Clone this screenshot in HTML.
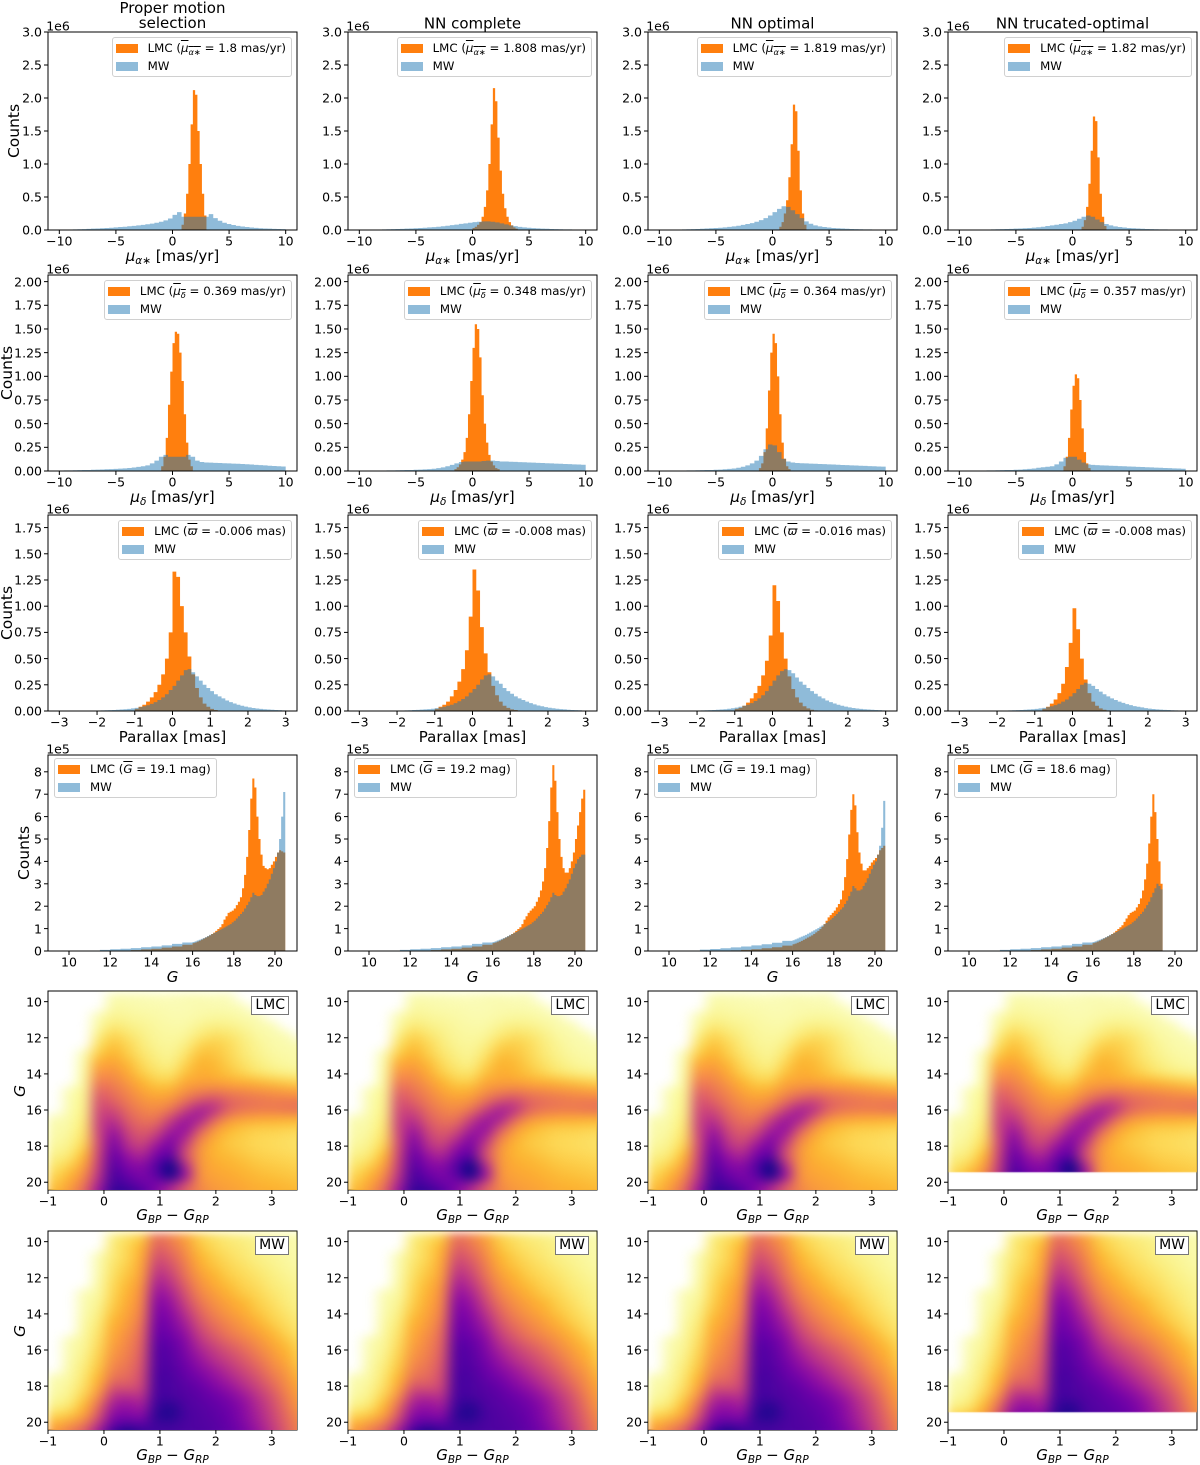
<!DOCTYPE html>
<html><head><meta charset="utf-8">
<style>
html,body{margin:0;padding:0;background:#fff;}
#root{position:relative;width:1200px;height:1465px;overflow:hidden;font-family:"DejaVu Sans","Liberation Sans",sans-serif;color:#000;}
.t{position:absolute;white-space:nowrap;transform:translate(-50%,-50%);}
.leg{position:absolute;background:rgba(255,255,255,0.85);border:1px solid #d0d0d0;border-radius:3px;padding:1px 5px 1px 3px;font-size:11.8px;line-height:18px;white-space:nowrap;}
.patch{display:inline-block;width:22px;height:9px;margin-right:10px;vertical-align:-1px;}
.box{position:absolute;border:1px solid #777;background:#fff;font-size:14px;padding:0 3px;line-height:17px;}
sub{font-size:70%;vertical-align:-3px;line-height:0;}
canvas{position:absolute;}
</style></head>
<body>
<div id="root">
<svg id="svg" width="1200" height="1465" style="position:absolute;left:0;top:0"></svg>
</div>
<script>
// ---------- DATA ----------
const columnTitles = ["Proper motion\nselection","NN complete","NN optimal","NN trucated-optimal"];
// Row 1: proper motion RA (units 1e6)
const pmraLmcStart = [0.8,0.0,0.6,0.8];
const pmraLmc1 = [0.08,0.25,0.55,1.0,1.6,2.12,2.05,1.5,1.0,0.55,0.22];
const pmraLmc2 = [0.03,0.05,0.08,0.12,0.2,0.35,0.6,1.0,1.6,2.15,1.95,1.4,0.9,0.55,0.33,0.2,0.12,0.07,0.04,0.02];
const pmraLmc3 = [0.05,0.12,0.25,0.45,0.8,1.3,1.9,1.8,1.2,0.6,0.25,0.08];
const pmraLmc4 = [0.05,0.15,0.35,0.7,1.2,1.72,1.65,1.1,0.55,0.2,0.06];
const pmraMw1 = [0.005,0.007,0.008,0.01,0.012,0.014,0.017,0.02,0.023,0.027,0.031,0.035,0.04,0.045,0.05,0.056,0.063,0.07,0.078,0.087,0.097,0.11,0.125,0.145,0.175,0.23,0.27,0.2,0.2,0.2,0.2,0.2,0.2,0.24,0.18,0.14,0.11,0.09,0.075,0.063,0.053,0.045,0.038,0.032,0.027,0.023,0.02,0.017,0.015,0.013];
const pmraMw2 = [0.004,0.005,0.006,0.007,0.008,0.009,0.011,0.013,0.015,0.017,0.02,0.023,0.026,0.03,0.034,0.039,0.044,0.05,0.057,0.065,0.073,0.082,0.092,0.1,0.11,0.12,0.125,0.13,0.13,0.125,0.115,0.1,0.085,0.07,0.058,0.048,0.04,0.034,0.029,0.025,0.021,0.018,0.016,0.014,0.012,0.01,0.009,0.008,0.007,0.006];
const pmraMw3 = [0.004,0.005,0.006,0.007,0.008,0.01,0.012,0.014,0.016,0.019,0.022,0.026,0.03,0.035,0.04,0.047,0.055,0.065,0.077,0.09,0.105,0.125,0.15,0.18,0.22,0.27,0.32,0.36,0.35,0.3,0.24,0.18,0.13,0.095,0.07,0.055,0.045,0.037,0.031,0.026,0.022,0.019,0.016,0.014,0.012,0.01,0.009,0.008,0.007,0.006];
const pmraMw4 = [0.003,0.004,0.005,0.005,0.006,0.007,0.008,0.01,0.011,0.013,0.015,0.017,0.02,0.023,0.027,0.031,0.036,0.042,0.05,0.06,0.07,0.08,0.09,0.1,0.12,0.14,0.17,0.2,0.22,0.2,0.16,0.12,0.09,0.07,0.055,0.045,0.037,0.031,0.026,0.022,0.019,0.016,0.014,0.012,0.01,0.009,0.008,0.007,0.006,0.005];
const pmraMeans = ["1.8","1.808","1.819","1.82"];
// Row 2: proper motion Dec (1e6)
const pmdecLmcStart = [-1.0,-1.6,-1.2,-0.8];
const pmdecLmc1 = [0.05,0.15,0.35,0.7,1.05,1.35,1.47,1.45,1.25,0.95,0.6,0.3,0.12,0.05];
const pmdecLmc2 = [0.02,0.04,0.07,0.12,0.2,0.35,0.6,0.95,1.3,1.55,1.5,1.2,0.8,0.5,0.3,0.17,0.1,0.06,0.03,0.02];
const pmdecLmc3 = [0.03,0.08,0.2,0.45,0.85,1.25,1.45,1.35,1.0,0.6,0.3,0.13,0.05,0.02];
const pmdecLmc4 = [0.05,0.15,0.35,0.65,0.9,1.02,0.98,0.75,0.45,0.2,0.08,0.03];
const pmdecMw1 = [0.005,0.006,0.007,0.008,0.009,0.01,0.011,0.013,0.014,0.016,0.018,0.02,0.022,0.025,0.028,0.032,0.037,0.043,0.05,0.06,0.08,0.11,0.15,0.17,0.15,0.15,0.15,0.15,0.17,0.15,0.11,0.095,0.09,0.088,0.086,0.084,0.082,0.08,0.078,0.076,0.074,0.071,0.068,0.065,0.062,0.059,0.056,0.053,0.05,0.047];
const pmdecMw2 = [0.003,0.003,0.004,0.004,0.005,0.005,0.006,0.007,0.008,0.009,0.01,0.011,0.013,0.015,0.017,0.02,0.024,0.03,0.038,0.05,0.065,0.08,0.095,0.1,0.1,0.1,0.1,0.105,0.11,0.11,0.105,0.1,0.1,0.098,0.096,0.094,0.092,0.09,0.088,0.086,0.084,0.082,0.08,0.078,0.076,0.074,0.072,0.07,0.068,0.066];
const pmdecMw3 = [0.003,0.003,0.004,0.004,0.005,0.005,0.006,0.007,0.008,0.009,0.01,0.011,0.013,0.015,0.018,0.022,0.027,0.034,0.045,0.06,0.08,0.11,0.16,0.23,0.28,0.27,0.2,0.13,0.1,0.09,0.085,0.082,0.08,0.078,0.076,0.074,0.072,0.07,0.068,0.066,0.064,0.062,0.06,0.058,0.056,0.054,0.052,0.05,0.048,0.046];
const pmdecMw4 = [0.003,0.003,0.004,0.004,0.005,0.005,0.006,0.007,0.008,0.009,0.01,0.011,0.013,0.015,0.018,0.022,0.027,0.034,0.04,0.045,0.05,0.07,0.1,0.14,0.15,0.15,0.12,0.09,0.07,0.065,0.062,0.06,0.058,0.056,0.054,0.052,0.05,0.048,0.046,0.044,0.042,0.04,0.038,0.036,0.034,0.032,0.03,0.028,0.026,0.024];
const pmdecMeans = ["0.369","0.348","0.364","0.357"];
// Row 3: parallax (1e6)
const plxLmcStart = [-1.0,-1.0,-1.0,-0.8];
const plxLmc1 = [0.02,0.04,0.06,0.09,0.13,0.18,0.25,0.35,0.5,0.75,1.33,1.28,1.0,0.75,0.52,0.35,0.22,0.13,0.07,0.04,0.02,0.01];
const plxLmc2 = [0.02,0.04,0.06,0.09,0.14,0.2,0.28,0.4,0.58,0.9,1.35,1.15,0.8,0.55,0.37,0.24,0.15,0.09,0.05,0.03,0.015,0.01];
const plxLmc3 = [0.02,0.03,0.05,0.08,0.12,0.17,0.24,0.34,0.48,0.72,1.2,1.05,0.75,0.5,0.33,0.21,0.13,0.08,0.045,0.025,0.012,0.006];
const plxLmc4 = [0.02,0.04,0.07,0.11,0.17,0.26,0.42,0.65,0.98,0.78,0.5,0.3,0.17,0.09,0.05,0.025,0.012,0.006];
const plxMw1 = [0.005,0.006,0.007,0.008,0.01,0.012,0.014,0.017,0.02,0.025,0.03,0.037,0.045,0.055,0.068,0.085,0.105,0.13,0.16,0.2,0.24,0.29,0.34,0.39,0.4,0.37,0.33,0.29,0.25,0.22,0.19,0.16,0.14,0.12,0.1,0.085,0.072,0.06,0.05,0.042,0.035,0.029,0.024,0.02,0.017,0.014,0.012,0.01,0.008,0.006];
const plxMw2 = [0.004,0.005,0.006,0.007,0.009,0.011,0.013,0.015,0.018,0.022,0.027,0.033,0.04,0.05,0.06,0.075,0.093,0.115,0.14,0.175,0.21,0.25,0.3,0.34,0.35,0.33,0.29,0.26,0.22,0.19,0.165,0.14,0.12,0.105,0.09,0.075,0.063,0.053,0.045,0.037,0.031,0.026,0.021,0.018,0.015,0.012,0.01,0.008,0.007,0.005];
const plxMw3 = [0.005,0.006,0.007,0.008,0.01,0.012,0.014,0.017,0.021,0.026,0.032,0.04,0.05,0.06,0.075,0.095,0.12,0.15,0.19,0.24,0.29,0.34,0.38,0.4,0.39,0.36,0.32,0.28,0.25,0.22,0.19,0.165,0.14,0.12,0.1,0.085,0.072,0.06,0.05,0.042,0.035,0.029,0.024,0.02,0.017,0.014,0.012,0.01,0.008,0.006];
const plxMw4 = [0.003,0.004,0.005,0.006,0.007,0.008,0.01,0.012,0.014,0.017,0.02,0.025,0.03,0.037,0.045,0.056,0.07,0.09,0.11,0.14,0.17,0.21,0.25,0.27,0.26,0.24,0.21,0.185,0.16,0.14,0.12,0.105,0.09,0.078,0.066,0.056,0.047,0.04,0.034,0.028,0.023,0.019,0.016,0.013,0.011,0.009,0.007,0.006,0.005,0.004];
const plxMeans = ["-0.006","-0.008","-0.016","-0.008"];
// Row 4: G magnitude (1e5); low segment 11.5-16 (0.5 bins), high segment from 16 (0.1 bins)
const gLmcLo1 = [0.003,0.01,0.02,0.04,0.07,0.1,0.15,0.2,0.28];
const gLmcLo2 = [0.003,0.01,0.02,0.04,0.07,0.1,0.15,0.2,0.28];
const gLmcLo3 = [0.003,0.008,0.015,0.03,0.05,0.08,0.12,0.17,0.24];
const gLmcLo4 = [0.003,0.01,0.02,0.04,0.07,0.1,0.15,0.2,0.28];
const gMwLo1 = [0.05,0.08,0.1,0.13,0.17,0.2,0.25,0.32,0.38];
const gMwLo2 = [0.05,0.08,0.1,0.13,0.17,0.2,0.25,0.32,0.38];
const gMwLo3 = [0.06,0.09,0.12,0.16,0.2,0.25,0.3,0.37,0.45];
const gMwLo4 = [0.05,0.08,0.1,0.13,0.17,0.2,0.25,0.32,0.38];
const gLmcHi1 = [0.35,0.38,0.42,0.46,0.5,0.55,0.6,0.65,0.7,0.76,0.82,0.9,0.98,1.06,1.2,1.4,1.55,1.7,1.75,1.8,1.9,2.05,2.2,2.4,2.8,3.4,4.2,5.4,6.8,7.7,7.3,6.0,5.0,4.3,3.8,3.7,3.65,3.7,3.85,4.0,4.2,4.4,4.5,4.45,4.4];
const gLmcHi2 = [0.35,0.38,0.42,0.46,0.5,0.55,0.6,0.65,0.7,0.76,0.82,0.9,0.98,1.06,1.2,1.4,1.55,1.7,1.8,1.9,2.0,2.2,2.4,2.7,3.1,3.7,4.6,5.8,7.3,8.3,7.6,6.2,5.0,4.2,3.7,3.5,3.5,3.7,4.0,4.4,5.0,5.6,6.2,6.8,7.2];
const gLmcHi3 = [0.3,0.33,0.37,0.41,0.45,0.5,0.55,0.6,0.65,0.7,0.76,0.83,0.9,0.98,1.08,1.2,1.35,1.5,1.6,1.7,1.8,1.95,2.1,2.3,2.7,3.3,4.1,5.2,6.3,7.0,6.5,5.3,4.4,3.9,3.6,3.6,3.7,3.8,3.95,4.05,4.15,4.3,4.5,4.6,4.7];
const gLmcHi4 = [0.35,0.38,0.42,0.46,0.5,0.55,0.6,0.65,0.7,0.76,0.82,0.9,0.98,1.06,1.15,1.3,1.45,1.6,1.7,1.75,1.8,1.95,2.1,2.35,2.7,3.2,3.9,4.8,6.0,7.0,6.2,5.0,4.0,3.0];
const gMwHi1 = [0.4,0.43,0.47,0.5,0.54,0.58,0.62,0.67,0.72,0.76,0.8,0.85,0.9,0.95,1.0,1.05,1.1,1.15,1.2,1.28,1.35,1.45,1.55,1.65,1.75,1.9,2.05,2.2,2.4,2.6,2.5,2.45,2.45,2.5,2.65,2.8,3.0,3.2,3.45,3.7,4.0,4.4,5.0,6.0,7.1];
const gMwHi2 = [0.4,0.43,0.47,0.5,0.54,0.58,0.62,0.67,0.72,0.76,0.8,0.85,0.9,0.95,1.0,1.05,1.1,1.15,1.2,1.28,1.35,1.45,1.55,1.65,1.75,1.9,2.05,2.2,2.4,2.6,2.5,2.45,2.45,2.5,2.65,2.8,3.0,3.2,3.45,3.7,3.9,4.1,4.2,4.3,4.3];
const gMwHi3 = [0.48,0.52,0.56,0.6,0.64,0.68,0.72,0.77,0.82,0.87,0.92,0.97,1.02,1.08,1.14,1.2,1.26,1.33,1.4,1.48,1.56,1.65,1.75,1.85,1.95,2.1,2.25,2.45,2.65,2.9,2.8,2.7,2.7,2.75,2.9,3.05,3.25,3.45,3.65,3.85,4.0,4.3,4.7,5.5,6.7];
const gMwHi4 = [0.4,0.43,0.47,0.5,0.54,0.58,0.62,0.67,0.72,0.76,0.8,0.85,0.9,0.95,1.0,1.05,1.1,1.15,1.2,1.28,1.35,1.45,1.55,1.65,1.75,1.9,2.05,2.2,2.4,2.6,2.8,3.0,2.9,2.75];
const gMeans = ["19.1","19.2","19.1","18.6"];
// CMD density grids (0-100), rows G 9.75..20.25 step 0.5, cols colour -0.875..3.375 step 0.25
const cmdLmc = [
[0,0,0,0,3,3,3,2,2,3,3,2,2,0,0,0,0,0],
[0,0,0,0,5,5,4,4,3,3,4,4,3,2,0,0,0,0],
[0,0,0,3,8,7,6,5,4,4,5,6,6,4,3,0,0,0],
[0,0,0,5,12,10,8,6,5,5,8,10,9,7,4,3,0,0],
[0,0,0,10,18,14,10,7,6,7,12,15,14,10,6,4,3,0],
[0,0,0,15,22,18,12,8,7,10,18,20,17,12,8,5,4,3],
[0,0,3,20,25,20,14,10,8,14,22,22,18,13,9,6,5,4],
[0,0,5,28,30,24,17,12,10,18,25,24,20,15,11,8,6,5],
[0,0,6,35,35,28,20,15,14,22,27,25,22,18,14,11,9,8],
[0,0,7,42,40,33,25,20,20,28,30,30,28,26,24,22,20,18],
[0,3,8,50,45,38,30,26,27,35,40,42,40,38,36,34,32,30],
[0,3,9,55,50,42,35,32,35,45,55,58,50,46,44,42,42,42],
[0,4,10,58,58,47,40,38,45,60,70,65,50,44,42,42,44,45],
[3,5,12,60,65,52,45,45,60,72,70,50,35,30,28,27,26,25],
[4,6,14,60,72,58,50,55,70,75,55,35,25,22,20,20,19,18],
[5,8,16,58,78,63,55,65,78,68,42,28,22,20,18,17,16,15],
[7,10,20,58,82,68,62,75,82,60,35,25,22,20,18,17,16,15],
[10,14,25,60,85,75,70,82,88,58,34,26,24,22,20,19,18,17],
[14,20,32,62,88,80,78,88,100,70,35,28,26,24,22,21,20,19],
[18,25,38,65,90,85,80,86,98,75,36,30,28,26,24,23,22,21],
[22,30,45,70,92,90,85,80,72,55,38,32,30,28,26,25,24,23],
[25,35,50,75,95,95,90,80,65,50,40,35,32,30,28,27,26,25]];
const cmdMw = [
[0,0,0,0,10,15,20,45,40,30,20,15,12,10,8,6,5,3],
[0,0,0,0,12,18,25,50,45,35,22,17,14,12,9,7,5,4],
[0,0,0,3,12,18,28,55,50,38,25,20,16,13,10,8,6,4],
[0,0,0,3,14,20,30,60,55,42,28,22,18,15,12,9,7,5],
[0,0,0,4,15,22,32,65,60,45,32,25,20,17,14,11,8,6],
[0,0,0,5,17,24,35,70,65,50,36,28,23,19,16,12,10,7],
[0,0,3,6,18,26,38,74,70,55,40,32,26,21,18,14,11,8],
[0,0,3,8,20,28,40,78,74,60,45,36,30,25,20,16,12,9],
[0,0,4,10,22,30,42,80,77,65,50,40,33,28,22,18,14,10],
[0,0,5,12,25,32,45,82,80,70,55,45,38,32,26,20,16,12],
[0,0,6,14,28,35,48,84,82,74,60,50,42,36,30,24,18,14],
[0,3,7,16,30,38,50,86,85,78,65,56,48,42,35,28,22,16],
[0,3,8,18,33,40,52,88,87,80,70,62,55,48,40,32,25,18],
[0,4,10,20,36,42,54,88,88,82,74,66,60,53,45,36,28,20],
[0,5,12,22,40,45,56,89,89,84,78,72,65,58,50,40,32,22],
[3,6,14,25,45,48,58,90,90,86,82,76,70,63,55,45,35,25],
[4,8,16,30,55,55,60,90,90,88,85,80,75,68,60,50,38,28],
[6,10,20,38,65,68,66,91,91,89,87,84,80,74,65,55,42,30],
[10,14,25,48,72,75,72,93,96,90,88,86,83,77,68,58,45,32],
[18,22,32,55,78,80,78,95,97,91,89,87,84,78,70,60,48,35],
[28,35,45,65,85,90,88,92,92,90,89,88,85,80,72,62,50,38],
[35,45,55,75,95,100,95,92,92,90,90,88,86,82,75,65,52,40]];
const cmdGMax = [20.5,20.5,20.5,19.45];
const cmdTicksX = [-1,0,1,2,3];
const cmdTicksY = [10,12,14,16,18,20];

// ---------- LAYOUT ----------
const root = document.getElementById('root');
const svg = document.getElementById('svg');
const NS = 'http://www.w3.org/2000/svg';
const colLeft = [48,348,648,948];
const PW = 249;
const ORANGE = '#ff7f0e', BLUE = '#1f77b4';

function mk(tag, attrs, parent){
  const e = document.createElementNS(NS, tag);
  for (const k in attrs) e.setAttribute(k, attrs[k]);
  (parent||svg).appendChild(e);
  return e;
}
function txt(html, x, y, size, extra){
  const d = document.createElement('div');
  d.className = 't';
  d.style.left = x+'px'; d.style.top = y+'px'; d.style.fontSize = size+'px';
  if (extra) d.style.cssText += extra;
  d.innerHTML = html;
  root.appendChild(d);
  return d;
}
function fmtNum(v, dec){ const s = v.toFixed(dec); return s.replace('-', '\u2212'); }

function makeAxes(p){
  const x = v => p.left + (v - p.xmin)/(p.xmax - p.xmin)*PW;
  const H = p.bottom - p.top;
  const y = p.inv ? (v => p.top + (v - p.ymin)/(p.ymax - p.ymin)*H)
                  : (v => p.bottom - (v - p.ymin)/(p.ymax - p.ymin)*H);
  return {x, y, H};
}
function frame(p, name){
  const r = mk('rect', {x:p.left, y:p.top, width:PW, height:p.bottom-p.top, fill:'none', stroke:'#000', 'stroke-width':1});
  
  
}
function ticks(p, ax, xt, xdec, yt, ydec, name){
  xt.forEach(v => {
    const X = ax.x(v);
    const l = mk('line', {x1:X, x2:X, y1:p.bottom, y2:p.bottom+4, stroke:'#000', 'stroke-width':1});
    
    
    const t = txt(fmtNum(v, xdec), X, p.bottom+11, 12.5);
    
    
  });
  yt.forEach(v => {
    const Y = ax.y(v);
    const l = mk('line', {x1:p.left-4, x2:p.left, y1:Y, y2:Y, stroke:'#000', 'stroke-width':1});
    
    
    const t = txt(fmtNum(v, ydec), p.left-6, Y, 12.5, 'transform:translate(-100%,-50%);');
    
    
  });
}
function histPath(ax, start, width, values, fill, opacity, name){
  let d = 'M'+ax.x(start)+','+ax.y(0);
  values.forEach((v,i) => {
    const x0 = ax.x(start + i*width), x1 = ax.x(start + (i+1)*width), Y = ax.y(v);
    d += ' L'+x0+','+Y+' L'+x1+','+Y;
  });
  d += ' L'+ax.x(start + values.length*width)+','+ax.y(0)+' Z';
  const e = mk('path', {d, fill, 'fill-opacity':opacity, stroke:'none'});
  
  
}
function legend(p, html1, pos, name){
  const d = document.createElement('div');
  d.className = 'leg';
  if (pos === 'right'){ d.style.right = (1200 - (p.left+PW) + 5)+'px'; d.style.top = (p.top+5)+'px'; }
  else { d.style.left = (p.left+6)+'px'; d.style.top = (p.top+3)+'px'; }
  d.innerHTML = '<div><span class="patch" style="background:'+ORANGE+'"></span>'+html1+'</div>'+
                '<div><span class="patch" style="background:#8fbbd9"></span>MW</div>';
  
  
  root.appendChild(d);
}

// ---------- HISTOGRAM ROWS ----------
const rows = [
 {key:'pmra', top:32, bottom:230, xmin:-11, xmax:11, ymax:3.0, yt:[0,0.5,1,1.5,2,2.5,3], ydec:1, xt:[-10,-5,0,5,10], xdec:0,
  lmcStart:pmraLmcStart, lmcW:0.2, lmc:[pmraLmc1,pmraLmc2,pmraLmc3,pmraLmc4], mwStart:-10, mwW:0.4, mw:[pmraMw1,pmraMw2,pmraMw3,pmraMw4],
  off:'1e6', ylabX:14, xlabel:'<i>μ</i><sub><i>α</i>∗</sub> [mas/yr]',
  leg:m => 'LMC (<span style="text-decoration:overline"><i>μ</i><sub><i>α</i>∗</sub></span> = '+m+' mas/yr)', means:pmraMeans, legPos:'right'},
 {key:'pmdec', top:275, bottom:471, xmin:-11, xmax:11, ymax:2.07, yt:[0,0.25,0.5,0.75,1,1.25,1.5,1.75,2], ydec:2, xt:[-10,-5,0,5,10], xdec:0,
  lmcStart:pmdecLmcStart, lmcW:0.2, lmc:[pmdecLmc1,pmdecLmc2,pmdecLmc3,pmdecLmc4], mwStart:-10, mwW:0.4, mw:[pmdecMw1,pmdecMw2,pmdecMw3,pmdecMw4],
  off:'1e6', ylabX:7, xlabel:'<i>μ</i><sub><i>δ</i></sub> [mas/yr]',
  leg:m => 'LMC (<span style="text-decoration:overline"><i>μ</i><sub><i>δ</i></sub></span> = '+m+' mas/yr)', means:pmdecMeans, legPos:'right'},
 {key:'parallax', top:515, bottom:711, xmin:-3.3, xmax:3.3, ymax:1.87, yt:[0,0.25,0.5,0.75,1,1.25,1.5,1.75], ydec:2, xt:[-3,-2,-1,0,1,2,3], xdec:0,
  lmcStart:plxLmcStart, lmcW:0.1, lmc:[plxLmc1,plxLmc2,plxLmc3,plxLmc4], mwStart:-2, mwW:0.1, mw:[plxMw1,plxMw2,plxMw3,plxMw4],
  off:'1e6', ylabX:7, xlabel:'Parallax [mas]',
  leg:m => 'LMC (<span style="text-decoration:overline"><i>ϖ</i></span> = '+m+' mas)', means:plxMeans, legPos:'right'},
 {key:'gmag', top:755, bottom:951, xmin:8.98, xmax:21.07, ymax:8.75, yt:[0,1,2,3,4,5,6,7,8], ydec:0, xt:[10,12,14,16,18,20], xdec:0,
  off:'1e5', ylabX:24, xlabel:'<i>G</i>',
  leg:m => 'LMC (<span style="text-decoration:overline"><i>G</i></span> = '+m+' mag)', means:gMeans, legPos:'left'}
];
const gLmcLo=[gLmcLo1,gLmcLo2,gLmcLo3,gLmcLo4], gMwLo=[gMwLo1,gMwLo2,gMwLo3,gMwLo4];
const gLmcHi=[gLmcHi1,gLmcHi2,gLmcHi3,gLmcHi4], gMwHi=[gMwHi1,gMwHi2,gMwHi3,gMwHi4];

rows.forEach((R, ri) => {
  for (let c=0;c<4;c++){
    const p = {left:colLeft[c], top:R.top, bottom:R.bottom, xmin:R.xmin, xmax:R.xmax, ymin:0, ymax:R.ymax};
    const ax = makeAxes(p);
    const nm = R.key+'-panel-'+(c+1);
    if (R.key === 'gmag'){
      histPath(ax, 11.5, 0.5, gLmcLo[c], ORANGE, 1, nm+'-lmc-hist-faint');
      histPath(ax, 16, 0.1, gLmcHi[c], ORANGE, 1, nm+'-lmc-hist');
      histPath(ax, 11.5, 0.5, gMwLo[c], BLUE, 0.5, nm+'-mw-hist-faint');
      histPath(ax, 16, 0.1, gMwHi[c], BLUE, 0.5, nm+'-mw-hist');
    } else {
      histPath(ax, R.lmcStart[c], R.lmcW, R.lmc[c], ORANGE, 1, nm+'-lmc-hist');
      histPath(ax, R.mwStart, R.mwW, R.mw[c], BLUE, 0.5, nm+'-mw-hist');
    }
    frame(p, nm);
    ticks(p, ax, R.xt, R.xdec, R.yt, R.ydec, nm);
    const o = txt(R.off, p.left+10, p.top-6, 12.5);
    
    
    const xl = txt(R.xlabel, p.left+PW/2, p.bottom+26, 15);
    
    
    legend(p, R.leg(R.means[c]), R.legPos, nm+'-legend');
    if (c===0){
      const yl = txt('Counts', R.ylabX, (p.top+p.bottom)/2, 15.5, 'transform:translate(-50%,-50%) rotate(-90deg);');
      
      
    }
  }
});

// column titles
columnTitles.forEach((t, c) => {
  const cx = colLeft[c] + PW/2;
  const d = txt(t.replace('\n','<br>'), cx, t.includes('\n') ? 16 : 24, 15, 'text-align:center;line-height:15px;');
  
  
});

// ---------- CMD PANELS ----------
const PL = [[13,8,135],[65,4,157],[106,0,168],[143,13,164],[177,42,144],[204,71,120],[225,100,98],[242,132,75],[252,166,54],[252,206,37],[240,249,33]];
function plasma(t){
  t = Math.max(0, Math.min(1, t));
  const f = t*10, i = Math.min(9, Math.floor(f)), r = f - i;
  return PL[i].map((v,k) => Math.round(v + (PL[i+1][k]-v)*r));
}
function cmdPanel(grid, c, top, label, rowName){
  const p = {left:colLeft[c], top, bottom:top+199, xmin:-1, xmax:3.45, ymin:9.41, ymax:20.43, inv:true};
  const ax = makeAxes(p);
  const nm = rowName+'-cmd-panel-'+(c+1);
  const nx = grid[0].length, ny = grid.length;
  const tiny = document.createElement('canvas');
  tiny.width = nx; tiny.height = ny;
  const tctx = tiny.getContext('2d');
  const img = tctx.createImageData(nx, ny);
  for (let j=0;j<ny;j++) for (let i=0;i<nx;i++){
    const d = grid[j][i]/100, k = (j*nx+i)*4;
    if (d <= 0) { img.data[k+3] = 0; continue; }
    const col = plasma(1 - Math.pow(d, 1.3));
    img.data[k]=col[0]; img.data[k+1]=col[1]; img.data[k+2]=col[2];
    img.data[k+3]=Math.round(255*Math.min(1, 0.25 + d/0.25*0.75));
  }
  tctx.putImageData(img, 0, 0);
  const cv = document.createElement('canvas');
  cv.width = PW; cv.height = 199;
  cv.style.left = p.left+'px'; cv.style.top = p.top+'px';
  
  
  root.appendChild(cv);
  const ctx = cv.getContext('2d');
  ctx.imageSmoothingEnabled = true;
  ctx.imageSmoothingQuality = 'high';
  ctx.save();
  ctx.beginPath();
  ctx.rect(0, 0, PW, ax.y(cmdGMax[c]) - p.top);
  ctx.clip();
  ctx.filter = 'blur(4px)';
  const x0 = ax.x(-1) - p.left, y0 = ax.y(9.5) - p.top;
  const w = ax.x(3.5)-ax.x(-1), h = ax.y(20.5)-ax.y(9.5);
  // extend bottom/right edges under blur by drawing slightly enlarged
  ctx.drawImage(tiny, x0, y0, w + 8, h + 8);
  ctx.restore();
  frame(p, nm);
  ticks(p, ax, cmdTicksX, 0, cmdTicksY, 0, nm);
  const xl = txt('<i>G</i><sub><i>BP</i></sub> − <i>G</i><sub><i>RP</i></sub>', p.left+PW/2, p.bottom+25, 15);
  
  
  if (c===0){
    const yl = txt('<i>G</i>', 20, (p.top+p.bottom)/2, 15.5, 'transform:translate(-50%,-50%) rotate(-90deg);');
    
    
  }
  const b = document.createElement('div');
  b.className = 'box';
  b.textContent = label;
  b.style.right = (1200 - (p.left+PW) + 8)+'px';
  b.style.top = (p.top+5)+'px';
  
  
  root.appendChild(b);
}
for (let c=0;c<4;c++){
  cmdPanel(cmdLmc, c, 991, 'LMC', 'lmc');
  cmdPanel(cmdMw, c, 1231, 'MW', 'mw');
}
</script>
</body></html>
